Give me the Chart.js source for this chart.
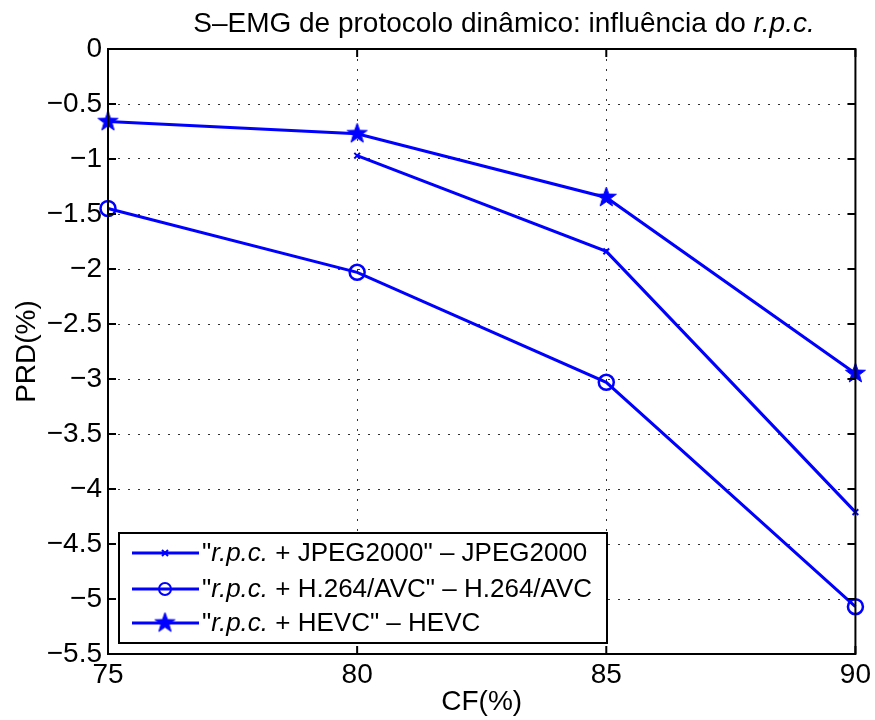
<!DOCTYPE html>
<html>
<head>
<meta charset="utf-8">
<script src="https://cdn.jsdelivr.net/npm/chart.js@4"></script>
<style>
  body { margin: 0; background: #fff; }
  #wrap { width: 875px; height: 720px; }
</style>
</head>
<body>
<div id="wrap"><canvas id="myChart" width="875" height="720"></canvas></div>
<script>
const cf = [75, 80, 85, 90];
const jpeg2000 = [null, -0.97, -1.84, -4.21];
const h264 = [-1.45, -2.03, -3.03, -5.07];
const hevc = [-0.66, -0.77, -1.35, -2.95];
const yTicks = [0, -0.5, -1, -1.5, -2, -2.5, -3, -3.5, -4, -4.5, -5, -5.5];
const legendNames = [
  ' + JPEG2000" \u2013 JPEG2000',
  ' + H.264/AVC" \u2013 H.264/AVC',
  ' + HEVC" \u2013 HEVC'
];

const blue = '#0000ff';
const fam = '"Liberation Sans", Arial, Helvetica, sans-serif';

// filled five point star, like matlab's pentagram
function makeStar(r) {
  let c = document.createElement('canvas');
  c.width = c.height = Math.ceil(r * 2 + 4);
  let g = c.getContext('2d');
  let cx = c.width / 2, cy = c.height / 2;
  g.beginPath();
  for (let i = 0; i < 10; i++) {
    let rad = i % 2 === 0 ? r : r * 0.4;
    let a = -Math.PI / 2 + i * Math.PI / 5;
    g.lineTo(cx + rad * Math.cos(a), cy + rad * Math.sin(a));
  }
  g.closePath();
  g.fillStyle = blue;
  g.fill();
  g.strokeStyle = blue;
  g.lineWidth = 1;
  g.stroke();
  return c;
}
const star = makeStar(10.5);

function pts(arr) {
  return cf.map((x, i) => ({ x: x, y: arr[i] }));
}

function minus(v) {
  if (v === 0) return '0';
  return (v < 0 ? '\u2212' : '') + Math.abs(v);
}

const frame = {
  id: 'frame',
  afterDraw(chart) {
    const ctx = chart.ctx;
    const a = chart.chartArea;
    const xs = chart.scales.x, ys = chart.scales.y;
    ctx.save();
    ctx.strokeStyle = '#000';
    ctx.lineWidth = 2;
    ctx.strokeRect(a.left, a.top, a.right - a.left, a.bottom - a.top);
    // inward ticks on all four sides
    const tl = 8;
    ctx.beginPath();
    cf.forEach(v => {
      let px = xs.getPixelForValue(v);
      ctx.moveTo(px, a.bottom); ctx.lineTo(px, a.bottom - tl);
      ctx.moveTo(px, a.top); ctx.lineTo(px, a.top + tl);
    });
    yTicks.forEach(v => {
      let py = ys.getPixelForValue(v);
      ctx.moveTo(a.left, py); ctx.lineTo(a.left + tl, py);
      ctx.moveTo(a.right, py); ctx.lineTo(a.right - tl, py);
    });
    ctx.stroke();

    // title with italic r.p.c.
    ctx.fillStyle = '#000';
    ctx.textBaseline = 'alphabetic';
    ctx.textAlign = 'left';
    const t1 = 'S\u2013EMG de protocolo din\u00e2mico: influ\u00eancia do ';
    const t2 = 'r.p.c.';
    ctx.font = '28px ' + fam;
    let w1 = ctx.measureText(t1).width;
    ctx.font = 'italic 28px ' + fam;
    let w2 = ctx.measureText(t2).width;
    let tx = 504 - (w1 + w2) / 2;
    ctx.font = '28px ' + fam;
    ctx.fillText(t1, tx, 32);
    ctx.font = 'italic 28px ' + fam;
    ctx.fillText(t2, tx + w1, 32);

    // legend box
    const lx = 119, ly = 533, lw = 488, lh = 110;
    ctx.fillStyle = '#fff';
    ctx.fillRect(lx, ly, lw, lh);
    ctx.strokeStyle = '#000';
    ctx.lineWidth = 2;
    ctx.strokeRect(lx, ly, lw, lh);
    const rows = [553, 589, 623];
    ctx.textBaseline = 'middle';
    rows.forEach((ry, i) => {
      ctx.strokeStyle = blue;
      ctx.lineWidth = 3;
      ctx.beginPath();
      ctx.moveTo(132, ry); ctx.lineTo(199, ry);
      ctx.stroke();
      let mx = 165;
      if (i === 0) {
        ctx.lineWidth = 2;
        ctx.beginPath();
        ctx.moveTo(mx - 3, ry - 3); ctx.lineTo(mx + 3, ry + 3);
        ctx.moveTo(mx - 3, ry + 3); ctx.lineTo(mx + 3, ry - 3);
        ctx.stroke();
      } else if (i === 1) {
        ctx.lineWidth = 2;
        ctx.beginPath();
        ctx.arc(mx, ry, 6, 0, Math.PI * 2);
        ctx.stroke();
      } else {
        ctx.drawImage(star, mx - star.width / 2, ry - star.height / 2);
      }
      ctx.fillStyle = '#000';
      let x0 = 202;
      ctx.font = '26px ' + fam;
      ctx.fillText('"', x0, ry + 1);
      x0 += ctx.measureText('"').width;
      ctx.font = 'italic 26px ' + fam;
      ctx.fillText('r.p.c.', x0, ry + 1);
      x0 += ctx.measureText('r.p.c.').width;
      ctx.font = '26px ' + fam;
      ctx.fillText(legendNames[i], x0, ry + 1);
    });
    ctx.restore();
  }
};

const ctx = document.getElementById('myChart').getContext('2d');
const myChart = new Chart(ctx, {
  type: 'line',
  data: {
    datasets: [
      {
        label: 'JPEG2000',
        data: pts(jpeg2000),
        borderColor: blue,
        backgroundColor: blue,
        borderWidth: 3,
        pointStyle: 'crossRot',
        pointRadius: 4,
        pointBorderWidth: 2,
        clip: false,
      },
      {
        label: 'H.264/AVC',
        data: pts(h264),
        borderColor: blue,
        backgroundColor: 'rgba(0,0,0,0)',
        borderWidth: 3,
        pointStyle: 'circle',
        pointRadius: 7.5,
        pointBorderWidth: 2.5,
        clip: false,
      },
      {
        label: 'HEVC',
        data: pts(hevc),
        borderColor: blue,
        backgroundColor: blue,
        borderWidth: 3,
        pointStyle: star,
        pointRadius: 10,
        clip: false,
      },
    ],
  },
  options: {
    responsive: false,
    animation: false,
    layout: { padding: { top: 49, right: 17, left: 0, bottom: 0 } },
    scales: {
      x: {
        type: 'linear',
        min: 75,
        max: 90,
        afterFit: s => { s.height = 66; },
        afterBuildTicks: s => { s.ticks = cf.map(v => ({ value: v })); },
        ticks: { padding: 4, color: '#000', font: { size: 28, family: fam } },
        grid: { color: '#333', lineWidth: 1, drawTicks: false },
        border: { display: false, dash: [2, 8] },
        title: { display: true, text: 'CF(%)', color: '#000', font: { size: 28, family: fam }, padding: { top: 0, bottom: 1 } },
      },
      y: {
        min: -5.5,
        max: 0,
        afterFit: s => { s.width = 108; },
        afterBuildTicks: s => { s.ticks = yTicks.map(v => ({ value: v })); },
        ticks: { padding: 6, color: '#000', font: { size: 28, family: fam }, callback: v => minus(v) },
        grid: { color: '#333', lineWidth: 1, drawTicks: false },
        border: { display: false, dash: [2, 8] },
        title: { display: true, text: 'PRD(%)', color: '#000', font: { size: 28, family: fam }, padding: { top: 10, bottom: 0 } },
      },
    },
    elements: { line: { tension: 0 } },
    plugins: {
      legend: { display: false },
      tooltip: { enabled: false },
    },
  },
  plugins: [frame],
});
</script>
</body>
</html>
